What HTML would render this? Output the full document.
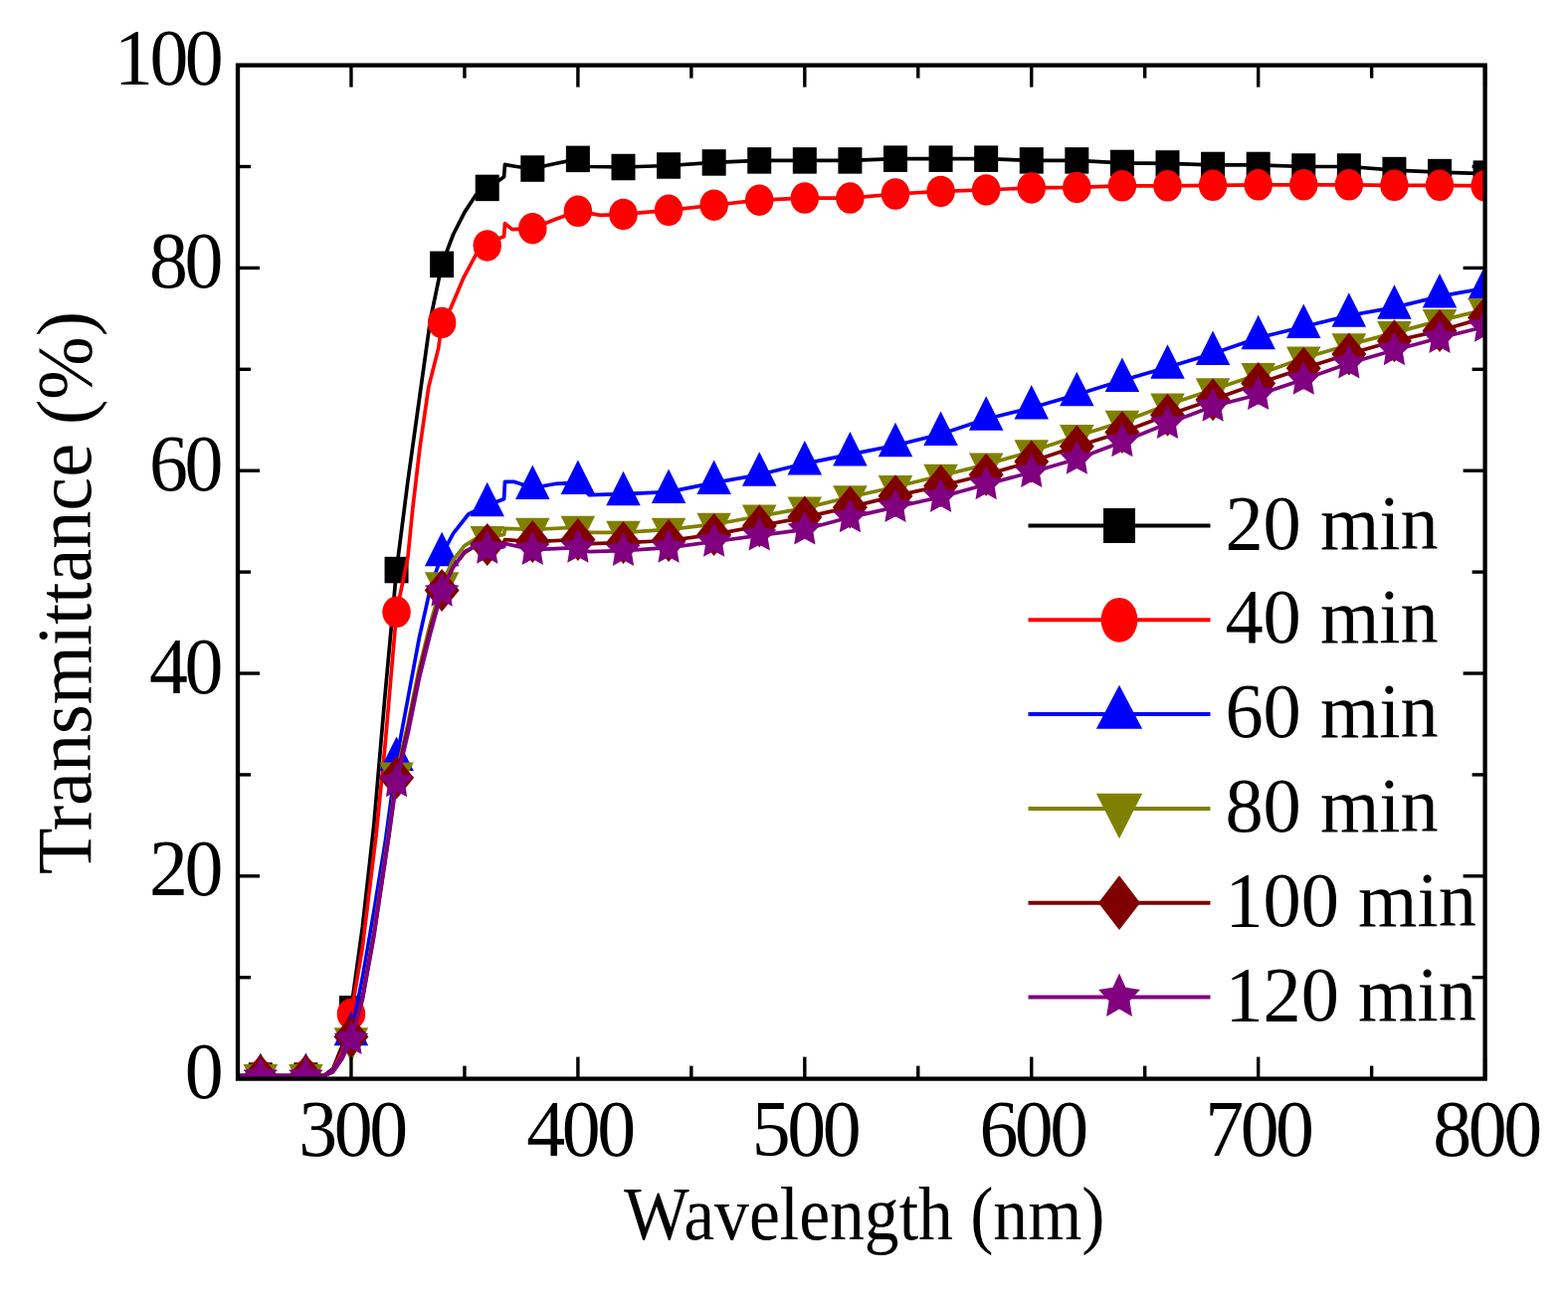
<!DOCTYPE html>
<html><head><meta charset="utf-8"><title>Transmittance vs Wavelength</title>
<style>
html,body{margin:0;padding:0;background:#fff;width:1576px;height:1304px;overflow:hidden}
svg{display:block}
text{font-family:"Liberation Serif","Times New Roman",serif;fill:#000;font-size:100px}

</style></head><body>
<svg width="1576" height="1304" viewBox="0 0 1576 1304">
<rect width="1576" height="1304" fill="#fff"/>
<defs><clipPath id="pc"><rect x="239.00" y="65.60" width="1253.60" height="1019.00"/></clipPath></defs>
<g clip-path="url(#pc)">
<polyline points="239.00,1081.54 325.61,1081.54 334.73,1074.41 343.85,1051.99 352.96,1014.29 364.36,931.75 375.76,829.85 387.15,697.38 398.55,573.06 409.95,483.39 421.34,401.87 432.74,320.35 444.13,265.83 455.53,235.77 466.93,213.36 478.32,196.03 489.72,188.90 501.12,181.77 506.59,177.69 507.50,165.46 519.35,167.50 535.31,169.54 558.10,164.44 580.89,159.86 592.29,167.50 626.48,168.01 672.06,166.48 717.65,163.42 763.23,161.39 808.82,161.39 854.40,161.39 899.99,159.65 945.57,159.65 991.16,159.65 1036.75,161.39 1082.33,161.39 1127.92,163.93 1173.50,164.44 1219.09,165.97 1264.67,165.97 1310.26,167.50 1355.84,167.50 1401.43,171.07 1447.01,173.10 1492.60,174.63" fill="none" stroke="#000000" stroke-width="3.7" stroke-linejoin="round"/>
<rect x="249.79" y="1068.29" width="24.00" height="26.50" fill="#000000"/>
<rect x="295.38" y="1068.29" width="24.00" height="26.50" fill="#000000"/>
<rect x="340.96" y="1001.04" width="24.00" height="26.50" fill="#000000"/>
<rect x="386.55" y="559.81" width="24.00" height="26.50" fill="#000000"/>
<rect x="432.13" y="252.58" width="24.00" height="26.50" fill="#000000"/>
<rect x="477.72" y="175.65" width="24.00" height="26.50" fill="#000000"/>
<rect x="523.31" y="156.29" width="24.00" height="26.50" fill="#000000"/>
<rect x="568.89" y="146.61" width="24.00" height="26.50" fill="#000000"/>
<rect x="614.48" y="154.76" width="24.00" height="26.50" fill="#000000"/>
<rect x="660.06" y="153.23" width="24.00" height="26.50" fill="#000000"/>
<rect x="705.65" y="150.17" width="24.00" height="26.50" fill="#000000"/>
<rect x="751.23" y="148.14" width="24.00" height="26.50" fill="#000000"/>
<rect x="796.82" y="148.14" width="24.00" height="26.50" fill="#000000"/>
<rect x="842.40" y="148.14" width="24.00" height="26.50" fill="#000000"/>
<rect x="887.99" y="146.40" width="24.00" height="26.50" fill="#000000"/>
<rect x="933.57" y="146.40" width="24.00" height="26.50" fill="#000000"/>
<rect x="979.16" y="146.40" width="24.00" height="26.50" fill="#000000"/>
<rect x="1024.75" y="148.14" width="24.00" height="26.50" fill="#000000"/>
<rect x="1070.33" y="148.14" width="24.00" height="26.50" fill="#000000"/>
<rect x="1115.92" y="150.68" width="24.00" height="26.50" fill="#000000"/>
<rect x="1161.50" y="151.19" width="24.00" height="26.50" fill="#000000"/>
<rect x="1207.09" y="152.72" width="24.00" height="26.50" fill="#000000"/>
<rect x="1252.67" y="152.72" width="24.00" height="26.50" fill="#000000"/>
<rect x="1298.26" y="154.25" width="24.00" height="26.50" fill="#000000"/>
<rect x="1343.84" y="154.25" width="24.00" height="26.50" fill="#000000"/>
<rect x="1389.43" y="157.82" width="24.00" height="26.50" fill="#000000"/>
<rect x="1435.01" y="159.85" width="24.00" height="26.50" fill="#000000"/>
<rect x="1480.60" y="161.38" width="24.00" height="26.50" fill="#000000"/>
<polyline points="239.00,1081.54 325.61,1081.54 334.73,1075.43 343.85,1056.07 352.96,1019.38 364.36,952.13 378.04,840.04 387.15,748.33 398.55,615.35 405.84,580.19 409.95,559.81 414.96,509.88 422.03,449.76 430.69,389.64 440.72,349.90 444.13,324.43 452.80,310.16 466.24,278.57 478.32,256.15 489.72,246.98 501.12,239.85 506.59,237.81 507.50,224.56 514.79,230.68 535.31,229.66 558.10,220.49 580.89,212.34 603.68,216.41 626.48,215.39 672.06,211.32 717.65,206.22 763.23,201.13 808.82,199.09 854.40,199.09 899.99,195.01 945.57,192.47 991.16,190.94 1036.75,188.90 1082.33,188.39 1127.92,186.86 1173.50,186.86 1219.09,186.35 1264.67,185.84 1310.26,185.84 1355.84,185.84 1401.43,186.35 1447.01,186.35 1492.60,186.86" fill="none" stroke="#FF0000" stroke-width="3.7" stroke-linejoin="round"/>
<ellipse cx="261.79" cy="1081.54" rx="14.25" ry="15.75" fill="#FF0000"/>
<ellipse cx="307.38" cy="1081.54" rx="14.25" ry="15.75" fill="#FF0000"/>
<ellipse cx="352.96" cy="1019.38" rx="14.25" ry="15.75" fill="#FF0000"/>
<ellipse cx="398.55" cy="615.35" rx="14.25" ry="15.75" fill="#FF0000"/>
<ellipse cx="444.13" cy="324.43" rx="14.25" ry="15.75" fill="#FF0000"/>
<ellipse cx="489.72" cy="246.98" rx="14.25" ry="15.75" fill="#FF0000"/>
<ellipse cx="535.31" cy="229.66" rx="14.25" ry="15.75" fill="#FF0000"/>
<ellipse cx="580.89" cy="212.34" rx="14.25" ry="15.75" fill="#FF0000"/>
<ellipse cx="626.48" cy="215.39" rx="14.25" ry="15.75" fill="#FF0000"/>
<ellipse cx="672.06" cy="211.32" rx="14.25" ry="15.75" fill="#FF0000"/>
<ellipse cx="717.65" cy="206.22" rx="14.25" ry="15.75" fill="#FF0000"/>
<ellipse cx="763.23" cy="201.13" rx="14.25" ry="15.75" fill="#FF0000"/>
<ellipse cx="808.82" cy="199.09" rx="14.25" ry="15.75" fill="#FF0000"/>
<ellipse cx="854.40" cy="199.09" rx="14.25" ry="15.75" fill="#FF0000"/>
<ellipse cx="899.99" cy="195.01" rx="14.25" ry="15.75" fill="#FF0000"/>
<ellipse cx="945.57" cy="192.47" rx="14.25" ry="15.75" fill="#FF0000"/>
<ellipse cx="991.16" cy="190.94" rx="14.25" ry="15.75" fill="#FF0000"/>
<ellipse cx="1036.75" cy="188.90" rx="14.25" ry="15.75" fill="#FF0000"/>
<ellipse cx="1082.33" cy="188.39" rx="14.25" ry="15.75" fill="#FF0000"/>
<ellipse cx="1127.92" cy="186.86" rx="14.25" ry="15.75" fill="#FF0000"/>
<ellipse cx="1173.50" cy="186.86" rx="14.25" ry="15.75" fill="#FF0000"/>
<ellipse cx="1219.09" cy="186.35" rx="14.25" ry="15.75" fill="#FF0000"/>
<ellipse cx="1264.67" cy="185.84" rx="14.25" ry="15.75" fill="#FF0000"/>
<ellipse cx="1310.26" cy="185.84" rx="14.25" ry="15.75" fill="#FF0000"/>
<ellipse cx="1355.84" cy="185.84" rx="14.25" ry="15.75" fill="#FF0000"/>
<ellipse cx="1401.43" cy="186.35" rx="14.25" ry="15.75" fill="#FF0000"/>
<ellipse cx="1447.01" cy="186.35" rx="14.25" ry="15.75" fill="#FF0000"/>
<ellipse cx="1492.60" cy="186.86" rx="14.25" ry="15.75" fill="#FF0000"/>
<polyline points="239.00,1081.54 325.61,1081.54 334.73,1076.45 343.85,1062.18 352.96,1039.76 364.36,982.70 375.76,916.46 387.15,847.17 398.55,763.62 409.95,702.47 421.34,641.34 432.74,590.38 444.13,557.78 455.53,536.38 470.80,517.02 489.72,507.85 501.12,503.77 506.59,501.73 507.50,484.41 517.07,484.41 535.31,490.52 558.10,486.45 580.89,485.43 592.29,497.66 626.48,496.64 672.06,494.60 717.65,485.43 763.23,477.28 808.82,466.07 854.40,456.90 899.99,447.73 945.57,436.52 991.16,421.23 1036.75,410.02 1082.33,396.78 1127.92,382.51 1173.50,369.26 1219.09,355.51 1264.67,339.71 1310.26,328.50 1355.84,317.29 1401.43,309.14 1447.01,297.93 1492.60,289.78" fill="none" stroke="#0000FF" stroke-width="3.7" stroke-linejoin="round"/>
<polygon points="261.79,1058.54 279.04,1093.04 244.54,1093.04" fill="#0000FF"/>
<polygon points="307.38,1058.54 324.63,1093.04 290.13,1093.04" fill="#0000FF"/>
<polygon points="352.96,1016.76 370.21,1051.26 335.71,1051.26" fill="#0000FF"/>
<polygon points="398.55,740.62 415.80,775.12 381.30,775.12" fill="#0000FF"/>
<polygon points="444.13,534.78 461.38,569.28 426.88,569.28" fill="#0000FF"/>
<polygon points="489.72,484.85 506.97,519.35 472.47,519.35" fill="#0000FF"/>
<polygon points="535.31,467.52 552.56,502.02 518.06,502.02" fill="#0000FF"/>
<polygon points="580.89,462.43 598.14,496.93 563.64,496.93" fill="#0000FF"/>
<polygon points="626.48,473.64 643.73,508.14 609.23,508.14" fill="#0000FF"/>
<polygon points="672.06,471.60 689.31,506.10 654.81,506.10" fill="#0000FF"/>
<polygon points="717.65,462.43 734.90,496.93 700.40,496.93" fill="#0000FF"/>
<polygon points="763.23,454.28 780.48,488.78 745.98,488.78" fill="#0000FF"/>
<polygon points="808.82,443.07 826.07,477.57 791.57,477.57" fill="#0000FF"/>
<polygon points="854.40,433.90 871.65,468.40 837.15,468.40" fill="#0000FF"/>
<polygon points="899.99,424.73 917.24,459.23 882.74,459.23" fill="#0000FF"/>
<polygon points="945.57,413.52 962.82,448.02 928.32,448.02" fill="#0000FF"/>
<polygon points="991.16,398.23 1008.41,432.73 973.91,432.73" fill="#0000FF"/>
<polygon points="1036.75,387.02 1054.00,421.52 1019.50,421.52" fill="#0000FF"/>
<polygon points="1082.33,373.78 1099.58,408.28 1065.08,408.28" fill="#0000FF"/>
<polygon points="1127.92,359.51 1145.17,394.01 1110.67,394.01" fill="#0000FF"/>
<polygon points="1173.50,346.26 1190.75,380.76 1156.25,380.76" fill="#0000FF"/>
<polygon points="1219.09,332.51 1236.34,367.01 1201.84,367.01" fill="#0000FF"/>
<polygon points="1264.67,316.71 1281.92,351.21 1247.42,351.21" fill="#0000FF"/>
<polygon points="1310.26,305.50 1327.51,340.00 1293.01,340.00" fill="#0000FF"/>
<polygon points="1355.84,294.29 1373.09,328.79 1338.59,328.79" fill="#0000FF"/>
<polygon points="1401.43,286.14 1418.68,320.64 1384.18,320.64" fill="#0000FF"/>
<polygon points="1447.01,274.93 1464.26,309.43 1429.76,309.43" fill="#0000FF"/>
<polygon points="1492.60,266.78 1509.85,301.28 1475.35,301.28" fill="#0000FF"/>
<polyline points="239.00,1081.54 325.61,1081.54 334.73,1077.47 343.85,1064.22 352.96,1044.86 364.36,1003.08 375.76,936.84 391.03,834.94 398.55,777.88 409.95,727.95 421.34,671.90 432.74,626.05 444.13,586.82 455.53,562.87 466.93,548.61 478.32,541.47 489.72,540.45 501.12,538.42 506.59,537.40 507.50,531.28 535.31,532.30 580.89,530.26 592.29,535.36 626.48,535.36 672.06,532.30 717.65,527.21 763.23,519.05 808.82,510.90 854.40,499.69 899.99,489.50 945.57,478.29 991.16,467.09 1036.75,453.84 1082.33,438.55 1127.92,424.29 1173.50,406.97 1219.09,391.68 1264.67,376.40 1310.26,360.09 1355.84,346.84 1401.43,334.62 1447.01,322.39 1492.60,311.18" fill="none" stroke="#808000" stroke-width="3.7" stroke-linejoin="round"/>
<polygon points="261.79,1104.54 279.04,1070.04 244.54,1070.04" fill="#808000"/>
<polygon points="307.38,1104.54 324.63,1070.04 290.13,1070.04" fill="#808000"/>
<polygon points="352.96,1067.86 370.21,1033.36 335.71,1033.36" fill="#808000"/>
<polygon points="398.55,800.88 415.80,766.38 381.30,766.38" fill="#808000"/>
<polygon points="444.13,609.82 461.38,575.32 426.88,575.32" fill="#808000"/>
<polygon points="489.72,563.45 506.97,528.95 472.47,528.95" fill="#808000"/>
<polygon points="535.31,555.30 552.56,520.80 518.06,520.80" fill="#808000"/>
<polygon points="580.89,553.26 598.14,518.76 563.64,518.76" fill="#808000"/>
<polygon points="626.48,558.36 643.73,523.86 609.23,523.86" fill="#808000"/>
<polygon points="672.06,555.30 689.31,520.80 654.81,520.80" fill="#808000"/>
<polygon points="717.65,550.21 734.90,515.71 700.40,515.71" fill="#808000"/>
<polygon points="763.23,542.05 780.48,507.55 745.98,507.55" fill="#808000"/>
<polygon points="808.82,533.90 826.07,499.40 791.57,499.40" fill="#808000"/>
<polygon points="854.40,522.69 871.65,488.19 837.15,488.19" fill="#808000"/>
<polygon points="899.99,512.50 917.24,478.00 882.74,478.00" fill="#808000"/>
<polygon points="945.57,501.29 962.82,466.79 928.32,466.79" fill="#808000"/>
<polygon points="991.16,490.09 1008.41,455.59 973.91,455.59" fill="#808000"/>
<polygon points="1036.75,476.84 1054.00,442.34 1019.50,442.34" fill="#808000"/>
<polygon points="1082.33,461.55 1099.58,427.05 1065.08,427.05" fill="#808000"/>
<polygon points="1127.92,447.29 1145.17,412.79 1110.67,412.79" fill="#808000"/>
<polygon points="1173.50,429.97 1190.75,395.47 1156.25,395.47" fill="#808000"/>
<polygon points="1219.09,414.68 1236.34,380.18 1201.84,380.18" fill="#808000"/>
<polygon points="1264.67,399.40 1281.92,364.90 1247.42,364.90" fill="#808000"/>
<polygon points="1310.26,383.09 1327.51,348.59 1293.01,348.59" fill="#808000"/>
<polygon points="1355.84,369.84 1373.09,335.34 1338.59,335.34" fill="#808000"/>
<polygon points="1401.43,357.62 1418.68,323.12 1384.18,323.12" fill="#808000"/>
<polygon points="1447.01,345.39 1464.26,310.89 1429.76,310.89" fill="#808000"/>
<polygon points="1492.60,334.18 1509.85,299.68 1475.35,299.68" fill="#808000"/>
<polyline points="239.00,1081.54 325.61,1081.54 334.73,1077.47 343.85,1064.22 352.96,1042.31 364.36,1003.08 375.76,939.90 391.03,838.00 398.55,781.96 409.95,733.04 421.34,677.00 432.74,631.14 444.13,593.44 455.53,570.00 466.93,555.74 478.32,548.61 489.72,547.59 501.12,546.57 506.59,545.55 507.50,542.49 535.31,544.53 580.89,542.49 592.29,546.57 626.48,545.55 672.06,543.51 717.65,537.40 763.23,528.74 808.82,520.07 854.40,509.88 899.99,498.67 945.57,488.49 991.16,477.28 1036.75,464.03 1082.33,448.74 1127.92,434.48 1173.50,417.16 1219.09,401.87 1264.67,385.57 1310.26,370.28 1355.84,356.02 1401.43,342.77 1447.01,332.58 1492.60,319.33" fill="none" stroke="#800000" stroke-width="3.7" stroke-linejoin="round"/>
<polygon points="261.79,1060.04 279.29,1081.54 261.79,1103.04 244.29,1081.54" fill="#800000"/>
<polygon points="307.38,1060.04 324.88,1081.54 307.38,1103.04 289.88,1081.54" fill="#800000"/>
<polygon points="352.96,1020.81 370.46,1042.31 352.96,1063.81 335.46,1042.31" fill="#800000"/>
<polygon points="398.55,760.46 416.05,781.96 398.55,803.46 381.05,781.96" fill="#800000"/>
<polygon points="444.13,571.94 461.63,593.44 444.13,614.94 426.63,593.44" fill="#800000"/>
<polygon points="489.72,526.09 507.22,547.59 489.72,569.09 472.22,547.59" fill="#800000"/>
<polygon points="535.31,523.03 552.81,544.53 535.31,566.03 517.81,544.53" fill="#800000"/>
<polygon points="580.89,520.99 598.39,542.49 580.89,563.99 563.39,542.49" fill="#800000"/>
<polygon points="626.48,524.05 643.98,545.55 626.48,567.05 608.98,545.55" fill="#800000"/>
<polygon points="672.06,522.01 689.56,543.51 672.06,565.01 654.56,543.51" fill="#800000"/>
<polygon points="717.65,515.90 735.15,537.40 717.65,558.90 700.15,537.40" fill="#800000"/>
<polygon points="763.23,507.24 780.73,528.74 763.23,550.24 745.73,528.74" fill="#800000"/>
<polygon points="808.82,498.57 826.32,520.07 808.82,541.57 791.32,520.07" fill="#800000"/>
<polygon points="854.40,488.38 871.90,509.88 854.40,531.38 836.90,509.88" fill="#800000"/>
<polygon points="899.99,477.17 917.49,498.67 899.99,520.17 882.49,498.67" fill="#800000"/>
<polygon points="945.57,466.99 963.07,488.49 945.57,509.99 928.07,488.49" fill="#800000"/>
<polygon points="991.16,455.78 1008.66,477.28 991.16,498.78 973.66,477.28" fill="#800000"/>
<polygon points="1036.75,442.53 1054.25,464.03 1036.75,485.53 1019.25,464.03" fill="#800000"/>
<polygon points="1082.33,427.24 1099.83,448.74 1082.33,470.24 1064.83,448.74" fill="#800000"/>
<polygon points="1127.92,412.98 1145.42,434.48 1127.92,455.98 1110.42,434.48" fill="#800000"/>
<polygon points="1173.50,395.66 1191.00,417.16 1173.50,438.66 1156.00,417.16" fill="#800000"/>
<polygon points="1219.09,380.37 1236.59,401.87 1219.09,423.37 1201.59,401.87" fill="#800000"/>
<polygon points="1264.67,364.07 1282.17,385.57 1264.67,407.07 1247.17,385.57" fill="#800000"/>
<polygon points="1310.26,348.78 1327.76,370.28 1310.26,391.78 1292.76,370.28" fill="#800000"/>
<polygon points="1355.84,334.52 1373.34,356.02 1355.84,377.52 1338.34,356.02" fill="#800000"/>
<polygon points="1401.43,321.27 1418.93,342.77 1401.43,364.27 1383.93,342.77" fill="#800000"/>
<polygon points="1447.01,311.08 1464.51,332.58 1447.01,354.08 1429.51,332.58" fill="#800000"/>
<polygon points="1492.60,297.83 1510.10,319.33 1492.60,340.83 1475.10,319.33" fill="#800000"/>
<polyline points="239.00,1081.54 325.61,1081.54 334.73,1077.47 343.85,1064.22 352.96,1044.86 364.36,1005.12 375.76,941.94 391.03,840.04 398.55,786.03 409.95,738.14 421.34,682.10 432.74,636.24 444.13,594.46 455.53,570.00 466.93,554.72 478.32,548.61 489.72,551.66 501.12,550.64 506.59,549.62 507.50,546.57 535.31,552.68 580.89,550.64 592.29,554.72 626.48,553.70 672.06,550.64 717.65,544.53 763.23,538.42 808.82,532.30 854.40,520.07 899.99,509.88 945.57,499.69 991.16,486.96 1036.75,474.73 1082.33,461.48 1127.92,444.16 1173.50,425.82 1219.09,408.49 1264.67,396.78 1310.26,381.49 1355.84,365.19 1401.43,351.94 1447.01,339.71 1492.60,328.50" fill="none" stroke="#800080" stroke-width="3.7" stroke-linejoin="round"/>
<polygon points="261.79,1062.75 267.12,1073.94 279.04,1075.74 270.42,1084.45 272.45,1096.75 261.79,1090.94 251.13,1096.75 253.17,1084.45 244.54,1075.74 256.46,1073.94" fill="#800080"/>
<polygon points="307.38,1062.75 312.71,1073.94 324.63,1075.74 316.00,1084.45 318.04,1096.75 307.38,1090.94 296.72,1096.75 298.75,1084.45 290.13,1075.74 302.05,1073.94" fill="#800080"/>
<polygon points="352.96,1026.06 358.29,1037.26 370.21,1039.05 361.59,1047.76 363.63,1060.06 352.96,1054.26 342.30,1060.06 344.34,1047.76 335.71,1039.05 347.63,1037.26" fill="#800080"/>
<polygon points="398.55,767.24 403.88,778.43 415.80,780.23 407.17,788.94 409.21,801.24 398.55,795.43 387.89,801.24 389.92,788.94 381.30,780.23 393.22,778.43" fill="#800080"/>
<polygon points="444.13,575.67 449.47,586.86 461.39,588.65 452.76,597.36 454.80,609.67 444.13,603.86 433.47,609.67 435.51,597.36 426.88,588.65 438.80,586.86" fill="#800080"/>
<polygon points="489.72,532.87 495.05,544.06 506.97,545.86 498.35,554.57 500.38,566.87 489.72,561.06 479.06,566.87 481.09,554.57 472.47,545.86 484.39,544.06" fill="#800080"/>
<polygon points="535.31,533.89 540.64,545.08 552.56,546.87 543.93,555.59 545.97,567.89 535.31,562.08 524.64,567.89 526.68,555.59 518.05,546.87 529.97,545.08" fill="#800080"/>
<polygon points="580.89,531.85 586.22,543.04 598.14,544.84 589.52,553.55 591.55,565.85 580.89,560.04 570.23,565.85 572.27,553.55 563.64,544.84 575.56,543.04" fill="#800080"/>
<polygon points="626.48,534.91 631.81,546.10 643.73,547.89 635.10,556.60 637.14,568.91 626.48,563.10 615.81,568.91 617.85,556.60 609.23,547.89 621.15,546.10" fill="#800080"/>
<polygon points="672.06,531.85 677.39,543.04 689.31,544.84 680.69,553.55 682.72,565.85 672.06,560.04 661.40,565.85 663.44,553.55 654.81,544.84 666.73,543.04" fill="#800080"/>
<polygon points="717.65,525.74 722.98,536.93 734.90,538.72 726.27,547.43 728.31,559.74 717.65,553.93 706.99,559.74 709.02,547.43 700.40,538.72 712.32,536.93" fill="#800080"/>
<polygon points="763.23,519.62 768.56,530.81 780.48,532.61 771.86,541.32 773.89,553.62 763.23,547.81 752.57,553.62 754.61,541.32 745.98,532.61 757.90,530.81" fill="#800080"/>
<polygon points="808.82,513.51 814.15,524.70 826.07,526.49 817.44,535.21 819.48,547.51 808.82,541.70 798.16,547.51 800.19,535.21 791.57,526.49 803.49,524.70" fill="#800080"/>
<polygon points="854.40,501.28 859.73,512.47 871.65,514.27 863.03,522.98 865.07,535.28 854.40,529.47 843.74,535.28 845.78,522.98 837.15,514.27 849.07,512.47" fill="#800080"/>
<polygon points="899.99,491.09 905.32,502.28 917.24,504.08 908.61,512.79 910.65,525.09 899.99,519.28 889.33,525.09 891.36,512.79 882.74,504.08 894.66,502.28" fill="#800080"/>
<polygon points="945.57,480.90 950.91,492.09 962.83,493.89 954.20,502.60 956.24,514.90 945.57,509.09 934.91,514.90 936.95,502.60 928.32,493.89 940.24,492.09" fill="#800080"/>
<polygon points="991.16,468.16 996.49,479.35 1008.41,481.15 999.79,489.86 1001.82,502.16 991.16,496.35 980.50,502.16 982.53,489.86 973.91,481.15 985.83,479.35" fill="#800080"/>
<polygon points="1036.75,455.93 1042.08,467.13 1054.00,468.92 1045.37,477.63 1047.41,489.93 1036.75,484.13 1026.08,489.93 1028.12,477.63 1019.49,468.92 1031.41,467.13" fill="#800080"/>
<polygon points="1082.33,442.69 1087.66,453.88 1099.58,455.67 1090.96,464.39 1092.99,476.69 1082.33,470.88 1071.67,476.69 1073.71,464.39 1065.08,455.67 1077.00,453.88" fill="#800080"/>
<polygon points="1127.92,425.36 1133.25,436.56 1145.17,438.35 1136.54,447.06 1138.58,459.36 1127.92,453.56 1117.25,459.36 1119.29,447.06 1110.67,438.35 1122.59,436.56" fill="#800080"/>
<polygon points="1173.50,407.02 1178.83,418.21 1190.75,420.01 1182.13,428.72 1184.16,441.02 1173.50,435.21 1162.84,441.02 1164.88,428.72 1156.25,420.01 1168.17,418.21" fill="#800080"/>
<polygon points="1219.09,389.70 1224.42,400.89 1236.34,402.69 1227.71,411.40 1229.75,423.70 1219.09,417.89 1208.43,423.70 1210.46,411.40 1201.84,402.69 1213.76,400.89" fill="#800080"/>
<polygon points="1264.67,377.98 1270.00,389.17 1281.92,390.97 1273.30,399.68 1275.33,411.98 1264.67,406.17 1254.01,411.98 1256.05,399.68 1247.42,390.97 1259.34,389.17" fill="#800080"/>
<polygon points="1310.26,362.70 1315.59,373.89 1327.51,375.68 1318.88,384.39 1320.92,396.70 1310.26,390.89 1299.60,396.70 1301.63,384.39 1293.01,375.68 1304.93,373.89" fill="#800080"/>
<polygon points="1355.84,346.39 1361.17,357.58 1373.09,359.38 1364.47,368.09 1366.51,380.39 1355.84,374.58 1345.18,380.39 1347.22,368.09 1338.59,359.38 1350.51,357.58" fill="#800080"/>
<polygon points="1401.43,333.14 1406.76,344.34 1418.68,346.13 1410.05,354.84 1412.09,367.14 1401.43,361.34 1390.77,367.14 1392.80,354.84 1384.18,346.13 1396.10,344.34" fill="#800080"/>
<polygon points="1447.01,320.92 1452.35,332.11 1464.27,333.90 1455.64,342.61 1457.68,354.92 1447.01,349.11 1436.35,354.92 1438.39,342.61 1429.76,333.90 1441.68,332.11" fill="#800080"/>
<polygon points="1492.60,309.71 1497.93,320.90 1509.85,322.69 1501.23,331.41 1503.26,343.71 1492.60,337.90 1481.94,343.71 1483.97,331.41 1475.35,322.69 1487.27,320.90" fill="#800080"/>
</g>
<g stroke="#000" stroke-width="3.4">
<line x1="352.96" y1="1084.60" x2="352.96" y2="1062.60"/>
<line x1="352.96" y1="65.60" x2="352.96" y2="87.60"/>
<line x1="466.93" y1="1084.60" x2="466.93" y2="1071.60"/>
<line x1="466.93" y1="65.60" x2="466.93" y2="78.60"/>
<line x1="580.89" y1="1084.60" x2="580.89" y2="1062.60"/>
<line x1="580.89" y1="65.60" x2="580.89" y2="87.60"/>
<line x1="694.85" y1="1084.60" x2="694.85" y2="1071.60"/>
<line x1="694.85" y1="65.60" x2="694.85" y2="78.60"/>
<line x1="808.82" y1="1084.60" x2="808.82" y2="1062.60"/>
<line x1="808.82" y1="65.60" x2="808.82" y2="87.60"/>
<line x1="922.78" y1="1084.60" x2="922.78" y2="1071.60"/>
<line x1="922.78" y1="65.60" x2="922.78" y2="78.60"/>
<line x1="1036.75" y1="1084.60" x2="1036.75" y2="1062.60"/>
<line x1="1036.75" y1="65.60" x2="1036.75" y2="87.60"/>
<line x1="1150.71" y1="1084.60" x2="1150.71" y2="1071.60"/>
<line x1="1150.71" y1="65.60" x2="1150.71" y2="78.60"/>
<line x1="1264.67" y1="1084.60" x2="1264.67" y2="1062.60"/>
<line x1="1264.67" y1="65.60" x2="1264.67" y2="87.60"/>
<line x1="1378.64" y1="1084.60" x2="1378.64" y2="1071.60"/>
<line x1="1378.64" y1="65.60" x2="1378.64" y2="78.60"/>
<line x1="1492.60" y1="1084.60" x2="1492.60" y2="1062.60"/>
<line x1="1492.60" y1="65.60" x2="1492.60" y2="87.60"/>
<line x1="239.00" y1="982.70" x2="252.00" y2="982.70"/>
<line x1="1492.60" y1="982.70" x2="1479.60" y2="982.70"/>
<line x1="239.00" y1="880.80" x2="261.00" y2="880.80"/>
<line x1="1492.60" y1="880.80" x2="1470.60" y2="880.80"/>
<line x1="239.00" y1="778.90" x2="252.00" y2="778.90"/>
<line x1="1492.60" y1="778.90" x2="1479.60" y2="778.90"/>
<line x1="239.00" y1="677.00" x2="261.00" y2="677.00"/>
<line x1="1492.60" y1="677.00" x2="1470.60" y2="677.00"/>
<line x1="239.00" y1="575.10" x2="252.00" y2="575.10"/>
<line x1="1492.60" y1="575.10" x2="1479.60" y2="575.10"/>
<line x1="239.00" y1="473.20" x2="261.00" y2="473.20"/>
<line x1="1492.60" y1="473.20" x2="1470.60" y2="473.20"/>
<line x1="239.00" y1="371.30" x2="252.00" y2="371.30"/>
<line x1="1492.60" y1="371.30" x2="1479.60" y2="371.30"/>
<line x1="239.00" y1="269.40" x2="261.00" y2="269.40"/>
<line x1="1492.60" y1="269.40" x2="1470.60" y2="269.40"/>
<line x1="239.00" y1="167.50" x2="252.00" y2="167.50"/>
<line x1="1492.60" y1="167.50" x2="1479.60" y2="167.50"/>
</g>
<rect x="239.00" y="65.60" width="1253.60" height="1019.00" fill="none" stroke="#000" stroke-width="4.3"/>
<text transform="matrix(0.7780 0 0 0.8000 185.71 1104.10)" style="letter-spacing:-4.4px">0</text>
<text transform="matrix(0.7780 0 0 0.8000 149.92 900.30)" style="letter-spacing:-4.4px">20</text>
<text transform="matrix(0.7780 0 0 0.8000 149.92 696.50)" style="letter-spacing:-4.4px">40</text>
<text transform="matrix(0.7780 0 0 0.8000 149.92 492.70)" style="letter-spacing:-4.4px">60</text>
<text transform="matrix(0.7780 0 0 0.8000 149.92 288.90)" style="letter-spacing:-4.4px">80</text>
<text transform="matrix(0.7780 0 0 0.8000 114.91 85.10)" style="letter-spacing:-4.4px">100</text>
<text transform="matrix(0.7780 0 0 0.8000 300.23 1162.20)" style="letter-spacing:-4.4px">300</text>
<text transform="matrix(0.7780 0 0 0.8000 529.32 1162.20)" style="letter-spacing:-4.4px">400</text>
<text transform="matrix(0.7780 0 0 0.8000 755.69 1162.20)" style="letter-spacing:-4.4px">500</text>
<text transform="matrix(0.7780 0 0 0.8000 984.40 1162.20)" style="letter-spacing:-4.4px">600</text>
<text transform="matrix(0.7780 0 0 0.8000 1211.16 1162.20)" style="letter-spacing:-4.4px">700</text>
<text transform="matrix(0.7780 0 0 0.8000 1440.25 1162.20)" style="letter-spacing:-4.4px">800</text>
<line x1="1033.5" y1="528.50" x2="1216.5" y2="528.50" stroke="#000000" stroke-width="4.0"/>
<rect x="1109.00" y="511.00" width="32.00" height="35.00" fill="#000000"/>
<text transform="matrix(0.7640 0 0 0.7730 1231.40 551.64)" style="letter-spacing:0.0px">20 min</text>
<line x1="1033.5" y1="623.30" x2="1216.5" y2="623.30" stroke="#FF0000" stroke-width="4.0"/>
<ellipse cx="1125.00" cy="623.30" rx="18.40" ry="22.40" fill="#FF0000"/>
<text transform="matrix(0.7640 0 0 0.7730 1231.40 646.44)" style="letter-spacing:0.0px">40 min</text>
<line x1="1033.5" y1="718.10" x2="1216.5" y2="718.10" stroke="#0000FF" stroke-width="4.0"/>
<polygon points="1125.00,688.63 1148.15,732.83 1101.85,732.83" fill="#0000FF"/>
<text transform="matrix(0.7640 0 0 0.7730 1231.40 741.25)" style="letter-spacing:0.0px">60 min</text>
<line x1="1033.5" y1="812.90" x2="1216.5" y2="812.90" stroke="#808000" stroke-width="4.0"/>
<polygon points="1125.00,843.37 1148.15,797.67 1101.85,797.67" fill="#808000"/>
<text transform="matrix(0.7640 0 0 0.7730 1231.40 836.04)" style="letter-spacing:0.0px">80 min</text>
<line x1="1033.5" y1="907.70" x2="1216.5" y2="907.70" stroke="#800000" stroke-width="4.0"/>
<polygon points="1125.00,880.35 1146.00,907.70 1125.00,935.05 1104.00,907.70" fill="#800000"/>
<text transform="matrix(0.7640 0 0 0.7730 1231.40 930.84)" style="letter-spacing:0.0px">100 min</text>
<line x1="1033.5" y1="1002.50" x2="1216.5" y2="1002.50" stroke="#800080" stroke-width="4.0"/>
<polygon points="1125.00,978.40 1131.46,992.75 1145.90,995.05 1135.45,1006.22 1137.92,1022.00 1125.00,1014.55 1112.08,1022.00 1114.55,1006.22 1104.10,995.05 1118.54,992.75" fill="#800080"/>
<text transform="matrix(0.7640 0 0 0.7730 1231.40 1025.64)" style="letter-spacing:0.0px">120 min</text>
<text transform="matrix(0.6962 0 0 0.7600 627.10 1246.04)" style="letter-spacing:0.0px">Wavelength (nm)</text>
<text transform="matrix(0 -0.7619 0.7822 0 90.57 879.12)">Transmittance (%)</text>
</svg>
</body></html>
